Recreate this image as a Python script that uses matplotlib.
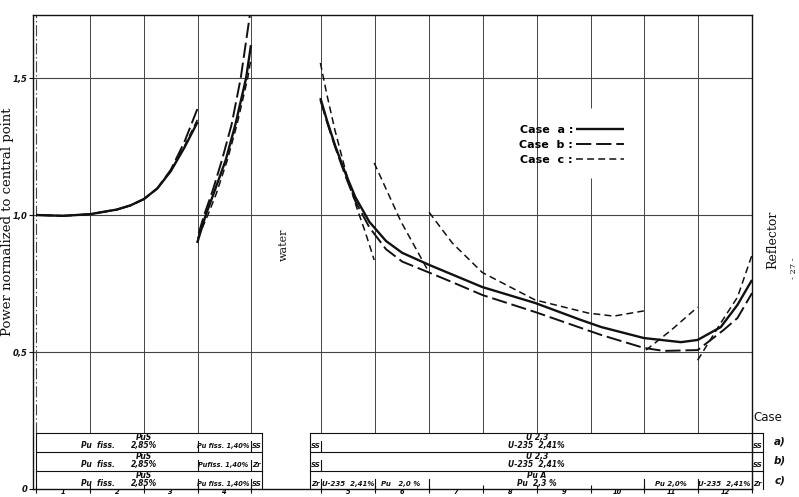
import matplotlib
matplotlib.use("Agg")
import matplotlib.pyplot as plt

plt.rcParams["lines.scale_dashes"] = False

# cell boundaries (cells 1-4, water gap, cells 5-12)
BOUNDS_LEFT = [0.0, 1.0, 2.0, 3.0, 4.0]
BOUNDS_RIGHT = [5.3, 6.3, 7.3, 8.3, 9.3, 10.3, 11.3, 12.3, 13.3]
CELL_CENTERS = [0.5, 1.5, 2.5, 3.5, 5.8, 6.8, 7.8, 8.8, 9.8, 10.8, 11.8, 12.8]
CELL_LABELS = ["1", "2", "3", "4", "5", "6", "7", "8", "9", "10", "11", "12"]

# cells 1-3
LEFT_X = [0.0, 0.5, 1.0, 1.5, 1.75, 2.0, 2.25, 2.5, 2.75, 3.0]
LEFT_A = [1.0, 0.997, 1.003, 1.02, 1.035, 1.058, 1.097, 1.16, 1.245, 1.34]
LEFT_B = [1.0, 0.997, 1.003, 1.02, 1.035, 1.058, 1.097, 1.165, 1.265, 1.39]
LEFT_C = [1.0, 0.997, 1.003, 1.02, 1.035, 1.058, 1.097, 1.16, 1.25, 1.35]

# cell 4
C4_A_X = [2.99, 3.15, 3.30, 3.52, 3.70, 3.90, 3.99]
C4_A = [0.898, 1.0, 1.08, 1.2, 1.33, 1.5, 1.62]
C4_B_X = [3.02, 3.12, 3.28, 3.45, 3.63, 3.80, 3.97]
C4_B = [0.934, 1.0, 1.09, 1.2, 1.33, 1.5, 1.73]
C4_C_X = [3.0, 3.19, 3.35, 3.55, 3.73, 3.93, 3.99]
C4_C = [0.915, 1.0, 1.08, 1.2, 1.33, 1.5, 1.57]

# cells 5-12
R_A_X = [5.28, 5.41, 5.56, 5.75, 5.93, 6.19, 6.50, 6.80, 7.30, 8.29, 9.27,
         10.12, 10.50, 11.29, 11.98, 12.29, 12.72, 13.03, 13.3]
R_A = [1.427, 1.34, 1.25, 1.15, 1.065, 0.975, 0.905, 0.862, 0.818, 0.737,
       0.679, 0.617, 0.591, 0.551, 0.536, 0.544, 0.591, 0.672, 0.763]
R_B_X = [5.28, 5.41, 5.56, 5.75, 5.93, 6.19, 6.50, 6.80, 7.30, 7.73, 8.29,
         9.27, 10.50, 11.29, 11.66, 12.29, 12.77, 13.03, 13.3]
R_B = [1.42, 1.335, 1.245, 1.14, 1.05, 0.955, 0.875, 0.83, 0.79, 0.755,
       0.708, 0.646, 0.562, 0.515, 0.504, 0.507, 0.58, 0.624, 0.715]
R_C_SEGS = [
    ([5.28, 5.40, 5.55, 5.75, 5.95, 6.11, 6.28],
     [1.555, 1.44, 1.31, 1.16, 1.03, 0.94, 0.836]),
    ([6.28, 6.78, 7.30], [1.19, 0.975, 0.79]),
    ([7.30, 7.73, 8.29, 9.27, 10.26, 10.73, 11.29],
     [1.01, 0.898, 0.79, 0.69, 0.642, 0.631, 0.65]),
    ([11.33, 11.8, 12.29], [0.507, 0.58, 0.664]),
    ([12.29, 12.72, 13.03, 13.3], [0.47, 0.606, 0.70, 0.854]),
]

YTICKS = [0, 0.5, 1.0, 1.5]
YTICK_LABELS = ["0", "0,5", "1,0", "1,5"]

INK = "#111111"
GRID = "#444444"
STYLE_A = dict(color=INK, lw=1.7, solid_capstyle="butt", solid_joinstyle="round")
STYLE_B = dict(color=INK, lw=1.4, linestyle=(0, (11, 3.5)))
STYLE_C = dict(color=INK, lw=1.1, linestyle=(0, (5, 3)))

fig = plt.figure(figsize=(7.99, 4.97), dpi=100, facecolor="white")
ax = fig.add_axes([33 / 799, 8 / 497, 719 / 799, 474 / 497])
ax.set_xlim(-0.06, 13.3)
ax.set_ylim(0, 1.73)

TABLE_TOP = 0.204
ROWS = [0.204, 0.135, 0.066, 0.0]

# grid
for y in YTICKS[1:]:
    ax.axhline(y, color=GRID, lw=0.8, zorder=1)
ax.vlines(0.0, TABLE_TOP, 1.73, color=GRID, lw=0.8, linestyles=(0, (8, 2, 1, 2)), zorder=1)
for xb in BOUNDS_LEFT[1:] + BOUNDS_RIGHT[:-1]:
    if xb == 10.3:
        ax.vlines(xb, TABLE_TOP, 1.135, color=GRID, lw=0.7, zorder=1)
        ax.vlines(xb, 1.39, 1.73, color=GRID, lw=0.7, zorder=1)
    else:
        ax.vlines(xb, TABLE_TOP, 1.73, color=GRID, lw=0.7, zorder=1)

# curves
la, = ax.plot(LEFT_X, LEFT_A, **STYLE_A, label="Case  a :")
lb, = ax.plot(LEFT_X, LEFT_B, **STYLE_B, label="Case  b :")
lc, = ax.plot(LEFT_X, LEFT_C, **STYLE_C, label="Case  c :")
ax.plot(C4_A_X, C4_A, **STYLE_A)
ax.plot(C4_B_X, C4_B, **STYLE_B)
ax.plot(C4_C_X, C4_C, **STYLE_C)
ax.plot(R_A_X, R_A, **STYLE_A)
ax.plot(R_B_X, R_B, **STYLE_B)
for xs, ys in R_C_SEGS:
    ax.plot(xs, ys, **STYLE_C)

ax.legend(handles=[la, lb, lc], loc="upper right", bbox_to_anchor=(0.836, 0.79),
          markerfirst=False, frameon=False, handlelength=4.3, handletextpad=0.3,
          labelspacing=0.45, prop=dict(family="DejaVu Sans", size=8, weight="bold"))

# axes styling
for s in ["top", "right", "left", "bottom"]:
    ax.spines[s].set_color(INK)
    ax.spines[s].set_linewidth(1.0)
ax.set_yticks(YTICKS)
ax.set_yticklabels(YTICK_LABELS, fontsize=6, fontstyle="italic", fontweight="bold")
ax.tick_params(axis="y", direction="out", length=3, pad=1, colors=INK)
ax.set_xticks(BOUNDS_LEFT + BOUNDS_RIGHT)
ax.set_xticklabels([])
ax.set_xticks(CELL_CENTERS, minor=True)
ax.set_xticklabels(CELL_LABELS, minor=True, fontsize=4.8, fontstyle="italic", fontweight="bold")
ax.tick_params(axis="x", which="major", direction="inout", length=6, colors=INK)
ax.tick_params(axis="x", which="minor", length=0, pad=0.2)

# material table under the curves
tk = dict(color=INK, lw=0.8, clip_on=False, zorder=3)
for y in ROWS[:-1]:
    ax.plot([0.0, 4.2], [y, y], **tk)
    ax.plot([5.08, 13.5], [y, y], **tk)
for x in [0.0, 4.2, 5.08, 13.5]:
    ax.plot([x, x], [0, TABLE_TOP], **tk)

tt = dict(fontsize=5.5, fontstyle="italic", fontweight="bold", ha="center",
          va="center", clip_on=False, color=INK)
left_rows = [("Pu fiss. 1,40%", "SS"), ("Pufiss. 1,40%", "Zr"), ("Pu fiss. 1,40%", "SS")]
for i, (mid, end) in enumerate(left_rows):
    top = ROWS[i]
    ax.text(2.0, top - 0.017, "PuS", **tt)
    ax.text(1.15, top - 0.046, "Pu  fiss.", **tt)
    ax.text(2.0, top - 0.046, "2,85%", **tt)
    ax.text(3.48, top - 0.046, mid, **dict(tt, fontsize=4.8))
    ax.text(4.1, top - 0.046, end, **dict(tt, fontsize=5))
    ax.plot([3.0, 3.0], [top - 0.066, top - 0.028], **tk)
    ax.plot([4.0, 4.0], [top - 0.066, top - 0.028], **tk)

for i, (ends, upper, lower) in enumerate([("SS", "U 2,3", "U-235  2,41%"),
                                          ("SS", "U 2,3", "U-235  2,41%")]):
    top = ROWS[i]
    ax.text(5.19, top - 0.046, ends, **dict(tt, fontsize=5))
    ax.text(13.4, top - 0.046, ends, **dict(tt, fontsize=5))
    ax.text(9.3, top - 0.017, upper, **tt)
    ax.text(9.3, top - 0.046, lower, **tt)
    ax.plot([5.3, 5.3], [top - 0.066, top - 0.028], **tk)
    ax.plot([13.3, 13.3], [top - 0.066, top - 0.028], **tk)

top = ROWS[2]
ax.text(5.19, top - 0.046, "Zr", **dict(tt, fontsize=5))
ax.text(5.8, top - 0.046, "U-235  2,41%", **dict(tt, fontsize=5))
ax.text(6.78, top - 0.046, "Pu   2,0 %", **dict(tt, fontsize=5))
ax.text(9.3, top - 0.017, "Pu A", **tt)
ax.text(9.3, top - 0.046, "Pu  2,3 %", **tt)
ax.text(11.8, top - 0.046, "Pu 2,0%", **dict(tt, fontsize=5))
ax.text(12.78, top - 0.046, "U-235  2,41%", **dict(tt, fontsize=5))
ax.text(13.4, top - 0.046, "Zr", **dict(tt, fontsize=5))
for x in [5.3, 6.3, 7.3, 11.3, 12.3, 13.3]:
    ax.plot([x, x], [top - 0.066, top - 0.028], **tk)

# annotations
ax.text(4.6, 0.89, "water", rotation=90, ha="center", va="center",
        fontsize=8, family="DejaVu Serif", color=INK)
fig.text(0.009, 0.553, "Power normalized to central point", rotation=90,
         ha="center", va="center", fontsize=9.5, family="DejaVu Serif", color=INK)
fig.text(0.967, 0.517, "Reflector", rotation=90, ha="center", va="center",
         fontsize=9, family="DejaVu Serif", color=INK)
fig.text(0.994, 0.46, "- 27 -", rotation=90, ha="center", va="center",
         fontsize=6, family="DejaVu Serif", color=INK)
fig.text(0.961, 0.159, "Case", ha="center", va="center", fontsize=8.5,
         family="DejaVu Sans", color=INK)
for lab, yy in [("a)", 0.111), ("b)", 0.073), ("c)", 0.034)]:
    fig.text(0.976, yy, lab, ha="center", va="center", fontsize=7.5,
             fontstyle="italic", fontweight="bold", color=INK)

fig.savefig("out.png", dpi=100, facecolor="white")
